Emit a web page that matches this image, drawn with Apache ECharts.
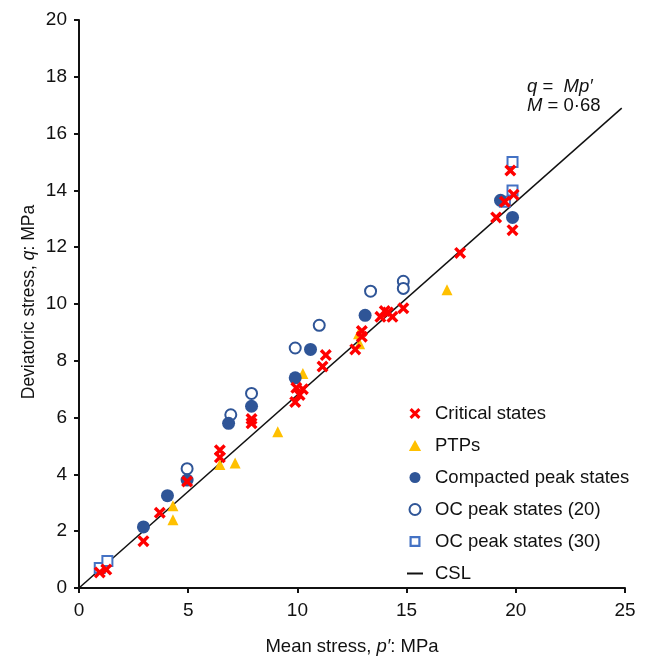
<!DOCTYPE html>
<html>
<head>
<meta charset="utf-8">
<script src="https://cdn.jsdelivr.net/npm/echarts@6/dist/echarts.min.js"></script>
<style>
  html, body { margin: 0; padding: 0; background: #fff; }
  #chart { width: 649px; height: 661px; }
</style>
</head>
<body>
<div id="chart"></div>
<script>
// Mean stress p' (MPa) and deviatoric stress q (MPa) for each state group
const criticalStates = [
  [0.95, 0.55], [1.25, 0.65], [2.95, 1.65], [3.7, 2.65], [4.95, 3.75],
  [6.45, 4.85], [6.45, 4.6], [7.9, 5.95], [7.9, 5.8], [9.9, 6.55],
  [10.1, 6.8], [9.95, 7.05], [10.25, 7.0], [11.15, 7.8], [11.3, 8.2],
  [12.65, 8.4], [12.95, 9.05], [12.95, 8.85], [13.8, 9.55], [14.0, 9.75],
  [14.15, 9.7], [14.35, 9.55], [14.85, 9.85], [17.45, 11.8], [19.1, 13.05],
  [19.5, 13.6], [19.75, 14.7], [19.9, 13.85], [19.85, 12.6]
];
const ptps = [
  [4.3, 2.9], [4.3, 2.4], [6.45, 4.35], [7.15, 4.4], [9.1, 5.5],
  [10.25, 7.55], [12.8, 8.95], [12.85, 8.6], [16.85, 10.5]
];
const compactedPeak = [
  [2.95, 2.15], [4.05, 3.25], [4.95, 3.8], [6.85, 5.8], [7.9, 6.4],
  [9.9, 7.4], [10.6, 8.4], [13.1, 9.6], [19.3, 13.65], [19.85, 13.05]
];
const ocPeak20 = [
  [4.95, 4.2], [6.95, 6.1], [7.9, 6.85], [9.9, 8.45], [11.0, 9.25],
  [13.35, 10.45], [14.85, 10.8], [14.85, 10.55]
];
const ocPeak30 = [
  [0.95, 0.7], [1.3, 0.95], [19.5, 13.6], [19.85, 14.0], [19.85, 15.0]
];

// Critical state line q = M p'
const M = 0.68;
const cslEndP = 24.85;
const cslLine = [[0, 0], [cslEndP, M * cslEndP]];

// Axis ranges and tick steps
const xRange = [0, 25], xStep = 5;
const yRange = [0, 20], yStep = 2;

const FONT = 'Liberation Sans, Arial, sans-serif';
const INK = '#111';
// marker and legend glyphs
const crossPath = 'path://M0,2 L2,0 L5,3 L8,0 L10,2 L7,5 L10,8 L8,10 L5,7 L2,10 L0,8 L3,5 Z';
const trianglePath = 'path://M5,0 L10,9 L0,9 Z';
const hollowSquarePath = 'path://M0,0 L10,0 L10,10 L0,10 Z M2,2 L2,8 L8,8 L8,2 Z';
const dashPath = 'path://M0,0 L16,0 L16,2 L0,2 Z';
const italic = { fontStyle: 'italic', fontFamily: FONT, fill: INK, color: INK };

const chart = echarts.init(document.getElementById('chart'), null, { renderer: 'canvas' });

const axisCommon = {
  axisLine: { show: true, onZero: false, lineStyle: { color: INK, width: 2 } },
  axisTick: { show: true, inside: false, length: 5, lineStyle: { color: INK, width: 2 } },
  splitLine: { show: false }
};

chart.setOption({
  animation: false,
  backgroundColor: '#fff',
  grid: { left: 79, right: 24, top: 20, bottom: 65, containLabel: false },
  xAxis: Object.assign({}, axisCommon, {
    type: 'value', min: xRange[0], max: xRange[1], interval: xStep,
    name: 'Mean stress, {i|p′}: MPa',
    nameLocation: 'middle', nameGap: 49,
    axisLabel: { color: INK, fontSize: 19, fontFamily: FONT, margin: 13 },
    nameTextStyle: {
      color: INK, fontSize: 18.5, fontFamily: FONT,
      rich: { i: Object.assign({ fontSize: 18.5 }, italic) }
    }
  }),
  yAxis: Object.assign({}, axisCommon, {
    type: 'value', min: yRange[0], max: yRange[1], interval: yStep,
    axisLabel: { color: INK, fontSize: 19, fontFamily: FONT, margin: 12 }
  }),
  legend: {
    orient: 'vertical', left: 402, top: 399,
    itemWidth: 16, itemHeight: 11, itemGap: 13,
    textStyle: { color: INK, fontSize: 18.5, fontFamily: FONT, lineHeight: 19, padding: [0, 0, 0, 7] },
    data: [
      { name: 'Critical states', icon: crossPath },
      { name: 'PTPs', icon: trianglePath },
      { name: 'Compacted peak states', icon: 'circle' },
      { name: 'OC peak states (20)', icon: 'emptyCircle' },
      { name: 'OC peak states (30)', icon: hollowSquarePath,
        itemStyle: { color: '#4472c4', borderWidth: 0 } },
      { name: 'CSL', icon: dashPath }
    ]
  },
  graphic: [
    {
      // y-axis title, rotated
      type: 'text', x: 29, y: 302, rotation: Math.PI / 2,
      style: {
        text: 'Deviatoric stress, {i|q}: MPa',
        align: 'center', verticalAlign: 'middle',
        fontSize: 17.5, fontFamily: FONT, fill: INK,
        rich: { i: Object.assign({ fontSize: 17.5 }, italic) }
      }
    },
    {
      type: 'text', left: 527, top: 77,
      style: {
        text: '{i|q} =  {i|Mp′}\n{i|M} = 0·68',
        fontSize: 18.5, fontFamily: FONT, fill: INK, lineHeight: 19,
        rich: { i: Object.assign({ fontSize: 18.5 }, italic) }
      }
    }
  ],
  series: [
    {
      name: 'CSL', type: 'line', data: cslLine, symbol: 'none',
      lineStyle: { color: INK, width: 1.5 }, itemStyle: { color: INK }, z: 1
    },
    {
      name: 'PTPs', type: 'scatter', data: ptps, symbol: 'triangle', symbolSize: 11,
      itemStyle: { color: '#ffc000', opacity: 1 }, z: 2
    },
    {
      name: 'OC peak states (20)', type: 'scatter', data: ocPeak20, symbol: 'emptyCircle', symbolSize: 11,
      itemStyle: { color: '#2f5597', borderColor: '#2f5597', borderWidth: 2.5, opacity: 1 }, z: 3
    },
    {
      name: 'OC peak states (30)', type: 'scatter', data: ocPeak30, symbol: 'emptyRect', symbolSize: 10,
      itemStyle: { color: '#4472c4', borderColor: '#4472c4', borderWidth: 2.5, opacity: 1 }, z: 3
    },
    {
      name: 'Compacted peak states', type: 'scatter', data: compactedPeak, symbol: 'circle', symbolSize: 13,
      itemStyle: { color: '#2f5597', opacity: 1 }, z: 4
    },
    {
      name: 'Critical states', type: 'scatter', data: criticalStates, symbol: crossPath, symbolSize: 12,
      itemStyle: { color: '#ff0000', opacity: 1 }, z: 5
    }
  ]
});
</script>
</body>
</html>
